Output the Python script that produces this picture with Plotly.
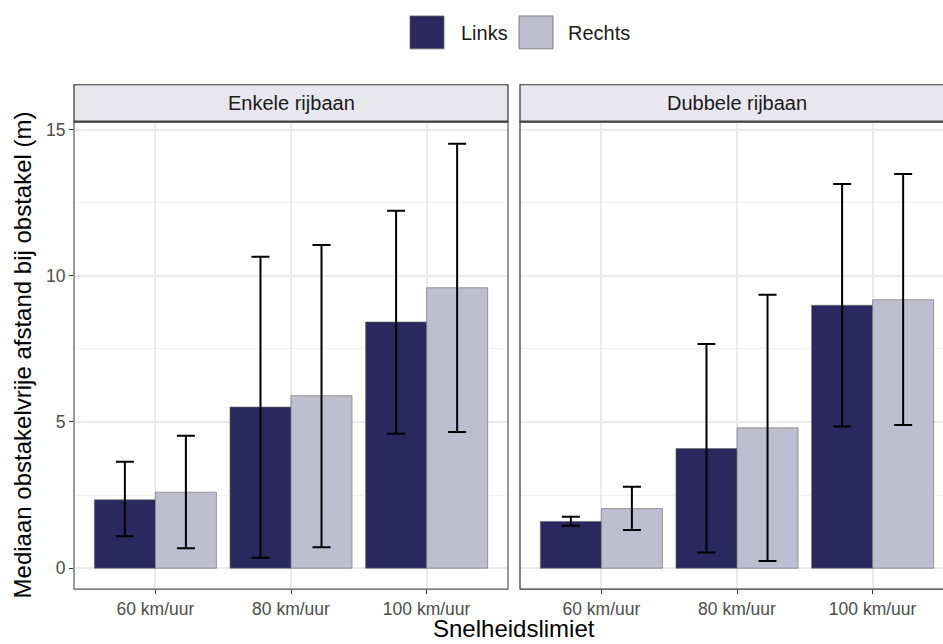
import plotly.graph_objects as go

W, H = 943, 644

categories = ["60 km/uur", "80 km/uur", "100 km/uur"]
panels = ["Enkele rijbaan", "Dubbele rijbaan"]
series = ["Links", "Rechts"]
colors = {"Links": "#2A285E", "Rechts": "#BFBDD0"}

# Enkele rijbaan
enk_links = [2.34, 5.51, 8.42]
enk_links_lo = [1.09, 0.36, 4.60]
enk_links_hi = [3.64, 10.65, 12.22]
enk_rechts = [2.60, 5.90, 9.59]
enk_rechts_lo = [0.68, 0.72, 4.66]
enk_rechts_hi = [4.53, 11.05, 14.51]

# Dubbele rijbaan
dub_links = [1.60, 4.09, 8.99]
dub_links_lo = [1.45, 0.54, 4.85]
dub_links_hi = [1.76, 7.67, 13.14]
dub_rechts = [2.04, 4.80, 9.18]
dub_rechts_lo = [1.31, 0.25, 4.90]
dub_rechts_hi = [2.79, 9.35, 13.48]

data = {
    "Enkele rijbaan": {
        "Links": (enk_links, enk_links_lo, enk_links_hi),
        "Rechts": (enk_rechts, enk_rechts_lo, enk_rechts_hi),
    },
    "Dubbele rijbaan": {
        "Links": (dub_links, dub_links_lo, dub_links_hi),
        "Rechts": (dub_rechts, dub_rechts_lo, dub_rechts_hi),
    },
}

FONT = "Liberation Sans, Arial, sans-serif"

# layout geometry (pixels)
p1x0, p1x1 = 74, 508
p2x0 = 520
py0, py1 = 120, 589
strip_top = 83
pxu = (p1x1 - p1x0) / 3.2
p2x1_full = p2x0 + (p1x1 - p1x0)
right_range_max = (W - p2x0) / pxu - 0.6

def px(x):
    return x / W

def py(y):
    return 1 - y / H

fig = go.Figure()
axes = [("x", "y"), ("x2", "y2")]
for (xa, ya), panel in zip(axes, panels):
    for s in series:
        vals, lo, hi = data[panel][s]
        fig.add_trace(go.Bar(
            x=categories, y=vals, name=s, xaxis=xa, yaxis=ya,
            marker=dict(color=colors[s], line=dict(color="#666666", width=0.6)),
            error_y=dict(type="data", symmetric=False,
                         array=[h - v for h, v in zip(hi, vals)],
                         arrayminus=[v - l for v, l in zip(vals, lo)],
                         color="black", thickness=2, width=9),
            showlegend=False, offsetgroup=s,
        ))

yrange = [-0.716, 15.27]
common_x = dict(type="category", showgrid=True, gridcolor="#EBEBEB", gridwidth=1.5,
                ticks="outside", ticklen=4, tickcolor="#333333", tickwidth=1,
                tickfont=dict(family=FONT, size=17.5, color="#4D4D4D"),
                showline=False, zeroline=False, fixedrange=True)
common_y = dict(range=yrange, showgrid=True, gridcolor="#EBEBEB", gridwidth=1.5,
                tickvals=[0, 5, 10, 15], zeroline=False, showline=False,
                minor=dict(tickvals=[2.5, 7.5, 12.5], showgrid=True,
                           gridcolor="#F2F2F2", gridwidth=0.8, ticks=""),
                domain=[py(py1), py(py0)])

fig.update_layout(
    width=W, height=H, margin=dict(l=0, r=0, t=0, b=0),
    paper_bgcolor="white", plot_bgcolor="white",
    barmode="group", bargap=0.1, bargroupgap=0,
    showlegend=False,
    xaxis=dict(common_x, domain=[px(p1x0), px(p1x1)], range=[-0.6, 2.6], anchor="y"),
    xaxis2=dict(common_x, domain=[px(p2x0), 1], range=[-0.6, right_range_max], anchor="y2"),
    yaxis=dict(common_y, anchor="x", ticks="outside", ticklen=4, tickcolor="#333333",
               tickfont=dict(family=FONT, size=17.5, color="#4D4D4D")),
    yaxis2=dict(common_y, anchor="x2", showticklabels=False, ticks=""),
    font=dict(family=FONT),
)

shapes = []
# panel borders
for x0, x1, col in [(p1x0, p1x1, "#555555"), (p2x0, p2x1_full, "#333333")]:
    shapes.append(dict(type="rect", xref="paper", yref="paper",
                       x0=px(x0), x1=px(x1), y0=py(py1), y1=py(py0),
                       line=dict(color=col, width=1.2), layer="above"))
    # strip
    shapes.append(dict(type="rect", xref="paper", yref="paper",
                       x0=px(x0), x1=px(x1), y0=py(py0), y1=py(strip_top),
                       fillcolor="#E8E7EE", line=dict(color="#333333", width=1.2),
                       layer="above"))
    shapes.append(dict(type="line", xref="paper", yref="paper",
                       x0=px(x0), x1=px(x1), y0=py(py0), y1=py(py0),
                       line=dict(color="#444444", width=2.2), layer="above"))

annotations = []
for (x0, x1), panel in zip([(p1x0, p1x1), (p2x0, p2x1_full)], panels):
    annotations.append(dict(text=panel, xref="paper", yref="paper",
                            x=px((x0 + x1) / 2), y=py((strip_top + py0) / 2),
                            showarrow=False, xanchor="center", yanchor="middle",
                            font=dict(family=FONT, size=20, color="#1A1A1A")))

# legend (custom)
legend_items = [("Links", 410, 459), ("Rechts", 519, 566)]
for name, bx, tx in legend_items:
    shapes.append(dict(type="rect", xref="paper", yref="paper",
                       x0=px(bx), x1=px(bx + 34), y0=py(47), y1=py(14),
                       fillcolor=colors[name],
                       line=dict(color="#666666", width=0.8)))
    annotations.append(dict(text=name, xref="paper", yref="paper",
                            x=px(tx), y=py(31), showarrow=False,
                            xanchor="left", yanchor="middle",
                            font=dict(family=FONT, size=20, color="#1A1A1A")))

# axis titles
annotations.append(dict(text="Snelheidslimiet", xref="paper", yref="paper",
                        x=px((p1x0 + p2x1_full) / 2), y=0, showarrow=False,
                        xanchor="center", yanchor="bottom",
                        font=dict(family=FONT, size=24, color="black")))
annotations.append(dict(text="Mediaan obstakelvrije afstand bij obstakel (m)",
                        xref="paper", yref="paper", textangle=-90,
                        x=px(22), y=py((py0 + py1) / 2), showarrow=False,
                        xanchor="center", yanchor="middle",
                        font=dict(family=FONT, size=24, color="black")))

fig.update_layout(shapes=shapes, annotations=annotations)
fig.write_html("out.html")
